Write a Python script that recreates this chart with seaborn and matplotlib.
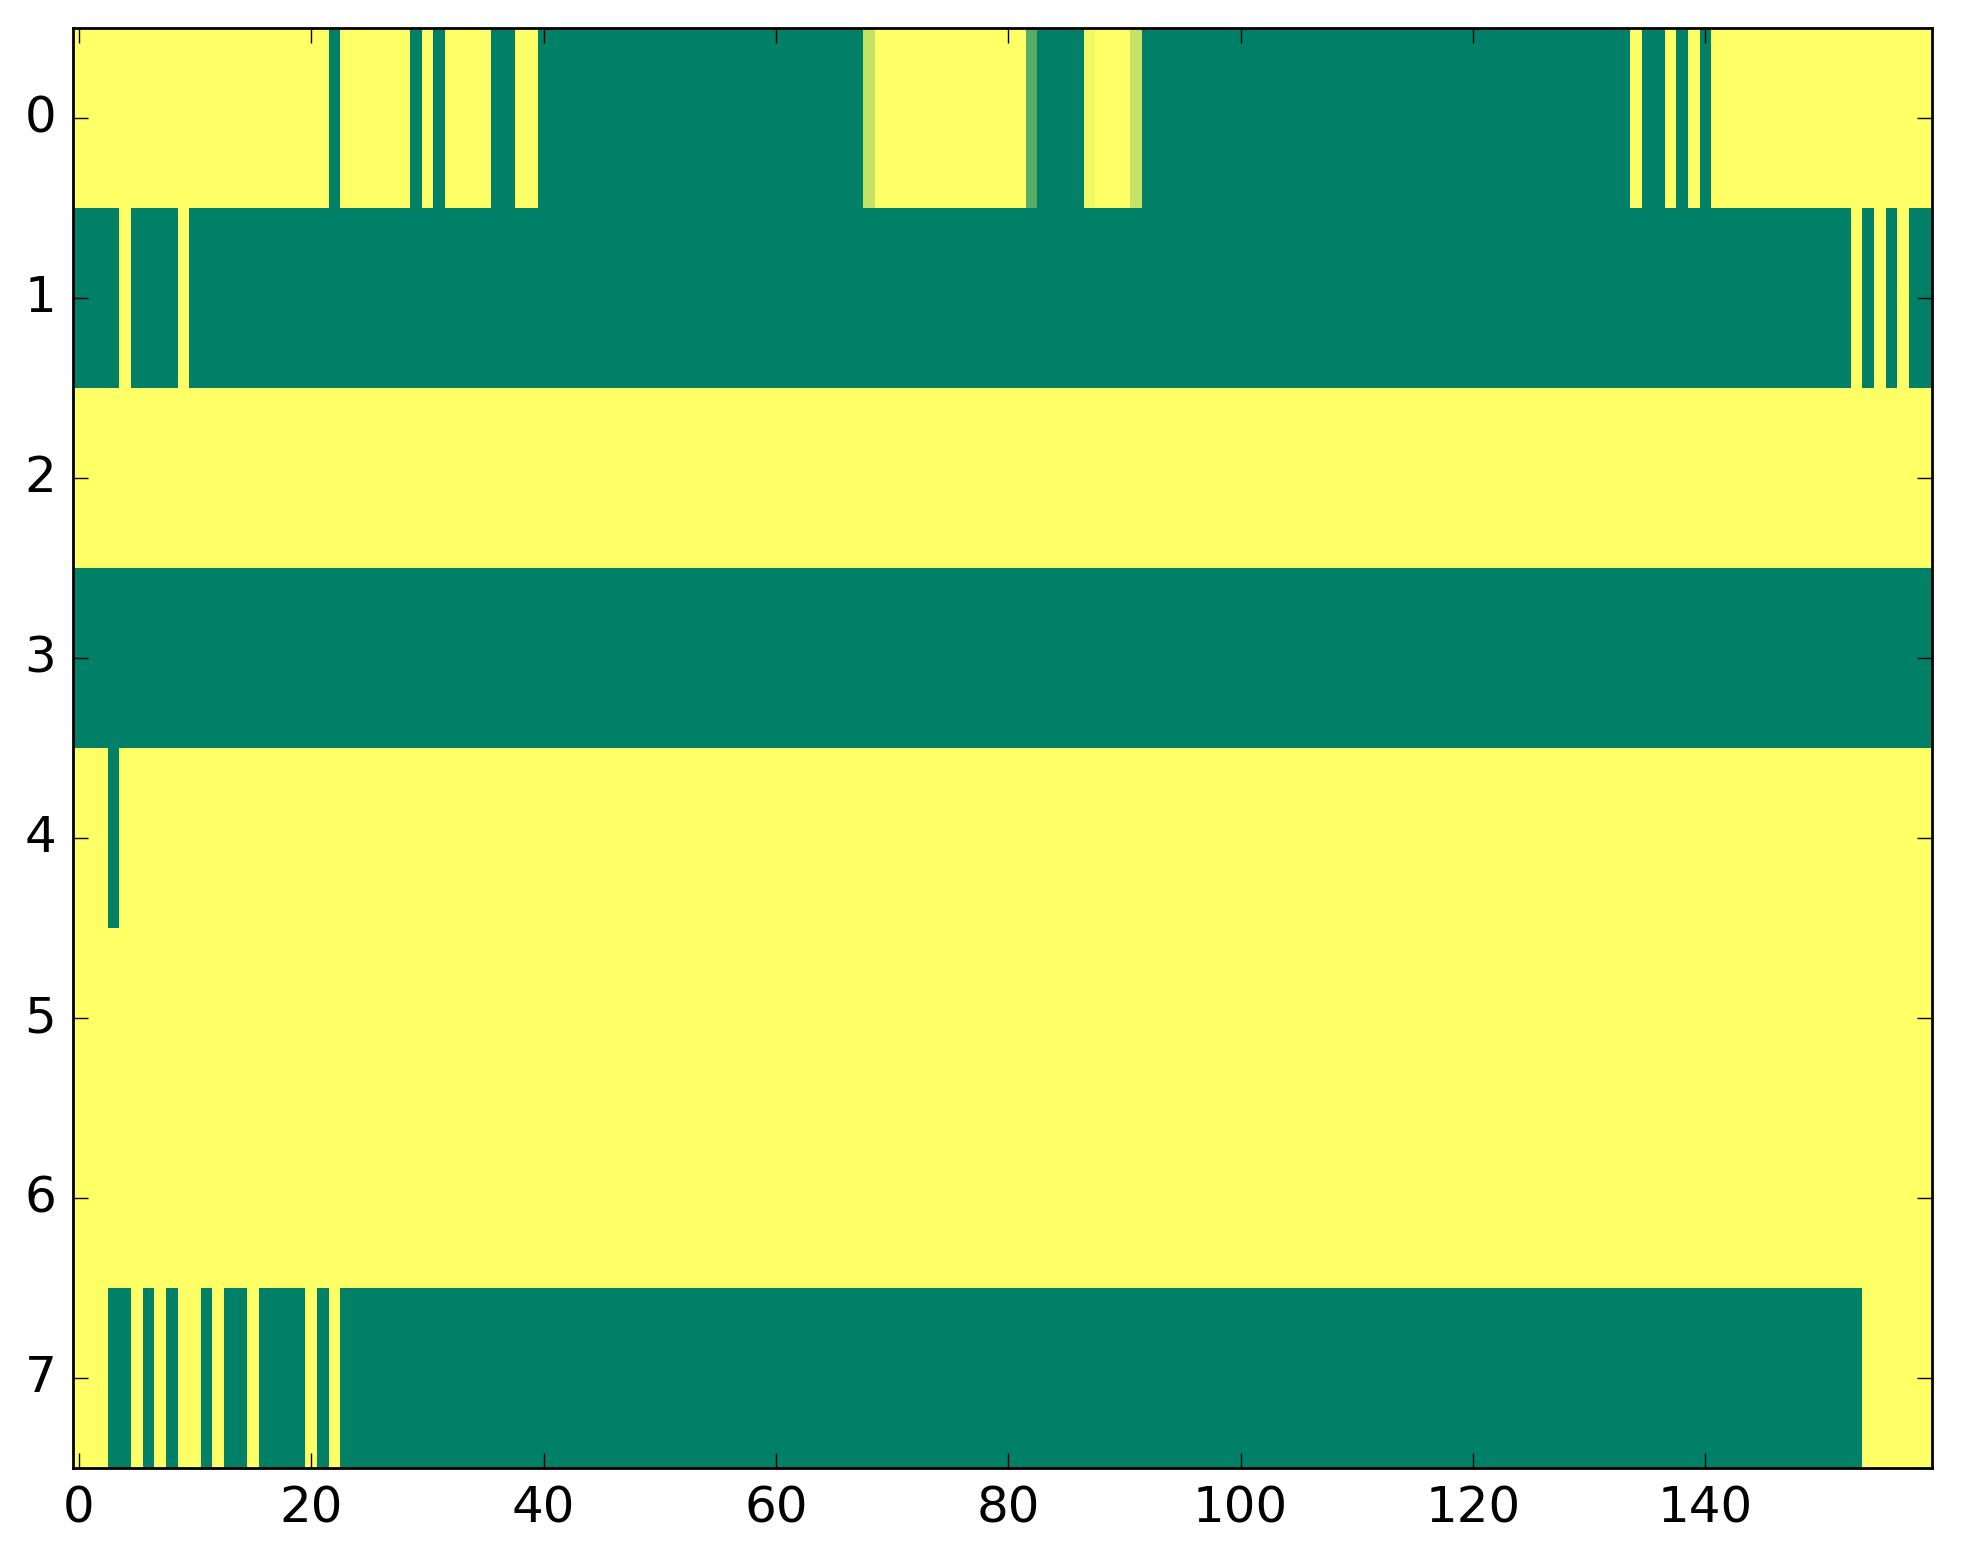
import numpy as np
import pandas as pd
import seaborn as sns
import matplotlib
matplotlib.use("Agg")
import matplotlib.pyplot as plt

# each row written as runs of (value, number of columns)
# 1 = yellow end of "summer", 0 = green end
row0_runs = [(1, 22), (0, 1), (1, 6), (0, 1), (1, 1), (0, 1), (1, 4), (0, 2),
             (1, 2), (0, 28), (0.77, 1), (1, 13), (0.35, 1), (0, 4), (0.94, 1),
             (1, 3), (0.77, 1), (0, 42), (1, 1), (0, 2), (1, 1), (0, 1), (1, 1),
             (0, 1), (1, 19)]
row1_runs = [(0, 4), (1, 1), (0, 4), (1, 1), (0, 143), (1, 1), (0, 1), (1, 1),
             (0, 1), (1, 1), (0, 2)]
row2_runs = [(1, 160)]
row3_runs = [(0, 160)]
row4_runs = [(1, 3), (0, 1), (1, 156)]
row5_runs = [(1, 160)]
row6_runs = [(1, 160)]
row7_runs = [(1, 3), (0, 2), (1, 1), (0, 1), (1, 1), (0, 1), (1, 2), (0, 1),
             (1, 1), (0, 2), (1, 1), (0, 4), (1, 1), (0, 1), (1, 1), (0, 131),
             (1, 6)]

x_ticks = [0, 20, 40, 60, 80, 100, 120, 140]
y_ticks = [0, 1, 2, 3, 4, 5, 6, 7]


def expand(runs):
    out = []
    for v, n in runs:
        out += [v] * n
    return out


rows = [row0_runs, row1_runs, row2_runs, row3_runs,
        row4_runs, row5_runs, row6_runs, row7_runs]
df = pd.DataFrame([expand(r) for r in rows])

fig = plt.figure(figsize=(1963 / 200, 1564 / 200), dpi=200)
ax = fig.add_axes([0.0372, 0.0614, 0.947, 0.9204])

sns.heatmap(df, cmap="summer", vmin=0, vmax=1, cbar=False, ax=ax,
            linewidths=0, rasterized=True)

ax.set_xticks(np.array(x_ticks) + 0.5)
ax.set_xticklabels([str(t) for t in x_ticks], rotation=0)
ax.set_yticks(np.array(y_ticks) + 0.5)
ax.set_yticklabels([str(t) for t in y_ticks], rotation=0)

for s in ax.spines.values():
    s.set_visible(True)
    s.set_linewidth(1.0)
    s.set_color("black")

ax.tick_params(direction="in", length=5.3, width=0.5, labelsize=18, pad=6,
               top=True, right=True, bottom=True, left=True,
               labeltop=False, labelright=False)
ax.set_xlabel("")
ax.set_ylabel("")

plt.savefig("out.png", dpi=200)
